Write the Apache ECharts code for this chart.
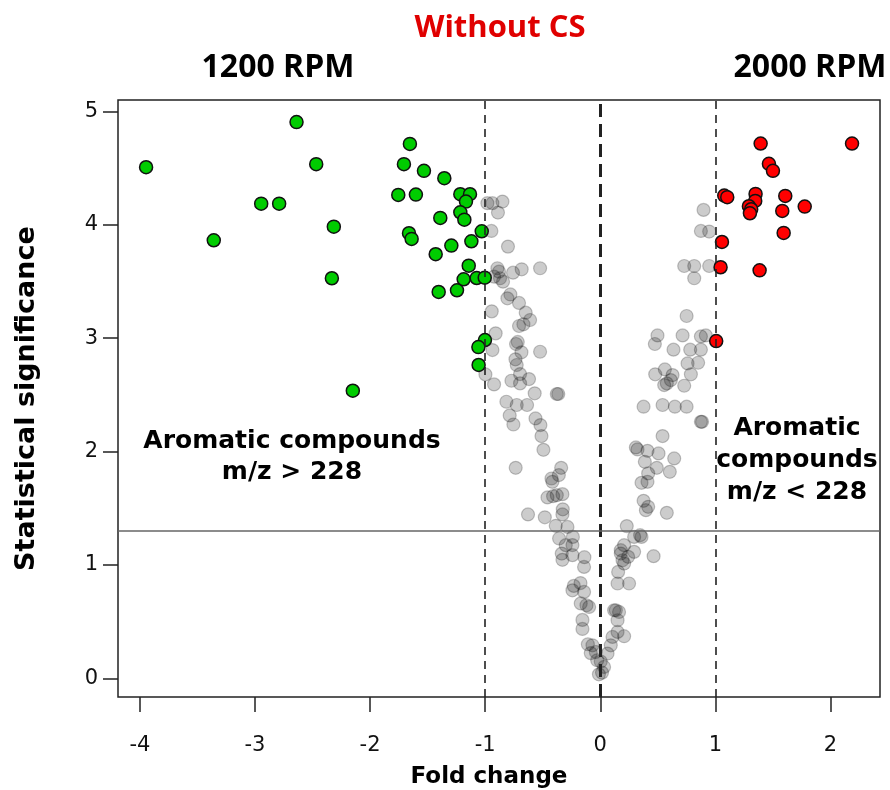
<!DOCTYPE html>
<html>
<head>
<meta charset="utf-8">
<script src="https://cdn.jsdelivr.net/npm/echarts@6/dist/echarts.min.js"></script>
<style>
html,body{margin:0;padding:0;background:#fff;}
#chart{width:890px;height:790px;}
</style>
</head>
<body>
<div id="chart"></div>
<script>
// ---- data ----
const xTicks = [-4, -3, -2, -1, 0, 1, 2];
const yTicks = [0, 1, 2, 3, 4, 5];
const foldThresholds = [-1, 1];
const centerLine = [0];
const sigThreshold = [1.301];

// significant, fold change < -1
const greenPoints = [
  [-3.946, 4.507], [-2.639, 4.905], [-2.468, 4.534], [-2.946, 4.186], [-2.79, 4.186],
  [-2.315, 3.983], [-3.358, 3.863], [-2.332, 3.528], [-2.15, 2.536],
  [-1.654, 4.713], [-1.706, 4.534], [-1.532, 4.475], [-1.355, 4.41], [-1.755, 4.263],
  [-1.602, 4.266], [-1.216, 4.269], [-1.132, 4.269], [-1.167, 4.204], [-1.216, 4.11],
  [-1.181, 4.045], [-1.39, 4.06], [-1.03, 3.942], [-1.662, 3.925], [-1.639, 3.875],
  [-1.12, 3.854], [-1.294, 3.816], [-1.43, 3.74], [-1.143, 3.639], [-1.187, 3.519],
  [-1.074, 3.53], [-1.004, 3.533], [-1.404, 3.407], [-1.245, 3.422], [-1.002, 2.983],
  [-1.059, 2.921], [-1.057, 2.763]
];

// significant, fold change > 1
const redPoints = [
  [1.393, 4.716], [2.187, 4.716], [1.465, 4.537], [1.5, 4.475], [1.077, 4.257],
  [1.103, 4.243], [1.349, 4.272], [1.346, 4.21], [1.607, 4.254], [1.291, 4.163],
  [1.311, 4.137], [1.3, 4.101], [1.776, 4.16], [1.581, 4.122], [1.593, 3.928],
  [1.057, 3.848], [1.045, 3.625], [1.384, 3.598], [1.007, 2.974]
];

// not significant by fold change
const grayPoints = [
  [-0.981, 4.19], [-0.937, 4.19], [-0.85, 4.204], [-0.889, 4.107], [-0.946, 3.945], [-0.802, 3.807],
  [-0.894, 3.616], [-0.88, 3.586], [-0.923, 3.542], [-0.871, 3.528], [-0.845, 3.498], [-0.758, 3.577],
  [-0.683, 3.607], [-0.523, 3.616], [-0.781, 3.385], [-0.807, 3.351], [-0.706, 3.31], [-0.943, 3.236],
  [-0.648, 3.224], [-0.61, 3.16], [-0.706, 3.107], [-0.668, 3.122], [-0.909, 3.042], [-0.717, 2.966],
  [-0.732, 2.948], [-0.685, 2.875], [-0.523, 2.88], [-0.937, 2.895], [-0.737, 2.813], [-0.726, 2.763],
  [-0.697, 2.683], [-0.772, 2.624], [-0.619, 2.639], [-0.697, 2.601], [-0.923, 2.592], [-0.998, 2.68],
  [-0.57, 2.513], [-0.378, 2.507], [-0.365, 2.507], [-0.816, 2.439], [-0.726, 2.41], [-0.636, 2.41],
  [-0.787, 2.318], [-0.755, 2.238], [-0.563, 2.292], [-0.52, 2.233], [-0.511, 2.136], [-0.494, 2.015],
  [-0.735, 1.856], [-0.34, 1.856], [-0.36, 1.792], [-0.424, 1.762], [-0.416, 1.733], [-0.329, 1.624],
  [-0.459, 1.595], [-0.41, 1.606], [-0.378, 1.615], [-0.326, 1.49], [-0.329, 1.445], [-0.628, 1.445],
  [-0.482, 1.42], [-0.387, 1.345], [-0.285, 1.335], [-0.358, 1.233], [-0.238, 1.247], [-0.3, 1.174],
  [-0.242, 1.175], [-0.335, 1.1], [-0.329, 1.045], [-0.242, 1.086], [-0.138, 1.068], [-0.141, 0.982],
  [-0.23, 0.815], [-0.172, 0.84], [-0.242, 0.776], [-0.141, 0.762], [-0.17, 0.66], [-0.12, 0.644],
  [-0.097, 0.629], [-0.155, 0.515], [-0.155, 0.435], [-0.108, 0.3], [-0.068, 0.291], [-0.083, 0.222],
  [-0.039, 0.232], [-0.027, 0.159], [0.004, 0.148], [-0.012, 0.035], [0.015, 0.05], [0.033, 0.1],
  [0.063, 0.218], [0.091, 0.291], [0.106, 0.365], [0.15, 0.409], [0.207, 0.371], [0.135, 0.6],
  [0.163, 0.585], [0.15, 0.512], [0.12, 0.6], [0.155, 0.938], [0.15, 0.836], [0.25, 0.836],
  [0.193, 1.041], [0.207, 1.012], [0.178, 1.1], [0.242, 1.071], [0.463, 1.077], [0.178, 1.13],
  [0.294, 1.115], [0.207, 1.174], [0.294, 1.247], [0.346, 1.262], [0.358, 1.247], [0.23, 1.342],
  [0.578, 1.459], [0.376, 1.565], [0.416, 1.512], [0.396, 1.483], [0.358, 1.724], [0.41, 1.733],
  [0.416, 1.807], [0.604, 1.821], [0.491, 1.856], [0.387, 1.909], [0.642, 1.939], [0.506, 1.983],
  [0.41, 2.006], [0.309, 2.036], [0.323, 2.018], [0.541, 2.136], [0.874, 2.262], [0.884, 2.262],
  [0.376, 2.395], [0.541, 2.41], [0.648, 2.395], [0.75, 2.395], [0.555, 2.586], [0.578, 2.601],
  [0.613, 2.63], [0.729, 2.58], [0.477, 2.681], [0.561, 2.724], [0.628, 2.674], [0.787, 2.681],
  [0.758, 2.777], [0.85, 2.783], [0.474, 2.948], [0.636, 2.898], [0.781, 2.898], [0.874, 2.898],
  [0.497, 3.024], [0.715, 3.024], [0.874, 3.015], [0.917, 3.024], [0.75, 3.195], [0.816, 3.528],
  [0.729, 3.636], [0.816, 3.636], [0.946, 3.636], [0.874, 3.945], [0.946, 3.94], [0.897, 4.131]
];

const titleText = 'Without CS';
const leftHeader = '1200 RPM';
const rightHeader = '2000 RPM';
const leftNote = 'Aromatic compounds\nm/z > 228';
const rightNote = 'Aromatic\ncompounds\nm/z < 228';

// ---- chart ----
const chart = echarts.init(document.getElementById('chart'), null, {renderer: 'canvas'});
const boldFont = 'DejaVu Sans';

const markLineData = [];
foldThresholds.forEach(v => markLineData.push({xAxis: v, lineStyle: {type: [8, 6], width: 1.6, color: '#222'}}));
centerLine.forEach(v => markLineData.push({xAxis: v, lineStyle: {type: [13, 7], width: 3, color: '#222'}}));
sigThreshold.forEach(v => markLineData.push({yAxis: v, lineStyle: {type: 'solid', width: 1.5, color: '#666'}}));

const option = {
  animation: false,
  backgroundColor: '#fff',
  grid: {left: 118, top: 100, width: 762, height: 597, outerBoundsMode: 'none', containLabel: false,
         show: true, borderColor: '#222', borderWidth: 1.5, backgroundColor: 'transparent'},
  xAxis: {
    type: 'value', min: -4.19, max: 2.43,
    name: 'Fold change', nameLocation: 'middle', nameGap: 69,
    nameTextStyle: {fontFamily: boldFont, fontWeight: 'bold', fontSize: 23, color: '#000', padding: [0, 20, 0, 0]},
    axisLine: {show: false, onZero: false},
    splitLine: {show: false},
    axisTick: {show: true, customValues: xTicks, length: 15, lineStyle: {color: '#222', width: 1.5}},
    axisLabel: {customValues: xTicks, margin: 38, fontSize: 21, color: '#111', fontFamily: 'DejaVu Sans'}
  },
  yAxis: {
    type: 'value', min: -0.165, max: 5.10,
    name: 'Statistical significance', nameLocation: 'middle', nameGap: 78,
    nameTextStyle: {fontFamily: boldFont, fontWeight: 'bold', fontSize: 27, color: '#000'},
    axisLine: {show: false, onZero: false},
    splitLine: {show: false},
    axisTick: {show: true, customValues: yTicks, length: 15, lineStyle: {color: '#222', width: 1.5}},
    axisLabel: {customValues: yTicks, margin: 20, fontSize: 21, color: '#111', fontFamily: 'DejaVu Sans'}
  },
  graphic: [
    {type: 'text', x: 500, y: 28, style: {text: titleText, fill: '#e00000', font: 'bold 31px "Open Sans"', align: 'center', verticalAlign: 'middle'}},
    {type: 'text', x: 278, y: 68, style: {text: leftHeader, fill: '#000', font: 'bold 32px "Open Sans"', align: 'center', verticalAlign: 'middle'}},
    {type: 'text', x: 810, y: 68, style: {text: rightHeader, fill: '#000', font: 'bold 32px "Open Sans"', align: 'center', verticalAlign: 'middle'}},
    {type: 'text', x: 292, y: 457, style: {text: leftNote, fill: '#000', font: 'bold 25px "DejaVu Sans"', align: 'center', verticalAlign: 'middle', lineHeight: 31}},
    {type: 'text', x: 797, y: 460, style: {text: rightNote, fill: '#000', font: 'bold 25px "DejaVu Sans"', align: 'center', verticalAlign: 'middle', lineHeight: 32}}
  ],
  series: [
    {
      type: 'scatter', name: 'ns', data: grayPoints, symbolSize: 13,
      itemStyle: {color: 'rgba(0,0,0,0.2)', borderColor: 'rgba(0,0,0,0.22)', borderWidth: 1.2, opacity: 1},
      markLine: {silent: true, symbol: ['none', 'none'], label: {show: false}, data: markLineData, animation: false},
      z: 2
    },
    {
      type: 'scatter', name: 'down', data: greenPoints, symbolSize: 13,
      itemStyle: {color: '#00cc00', borderColor: '#111', borderWidth: 1.5, opacity: 1}, z: 3
    },
    {
      type: 'scatter', name: 'up', data: redPoints, symbolSize: 13,
      itemStyle: {color: '#ff0000', borderColor: '#111', borderWidth: 1.5, opacity: 1}, z: 3
    }
  ]
};
chart.setOption(option);
</script>
</body>
</html>
